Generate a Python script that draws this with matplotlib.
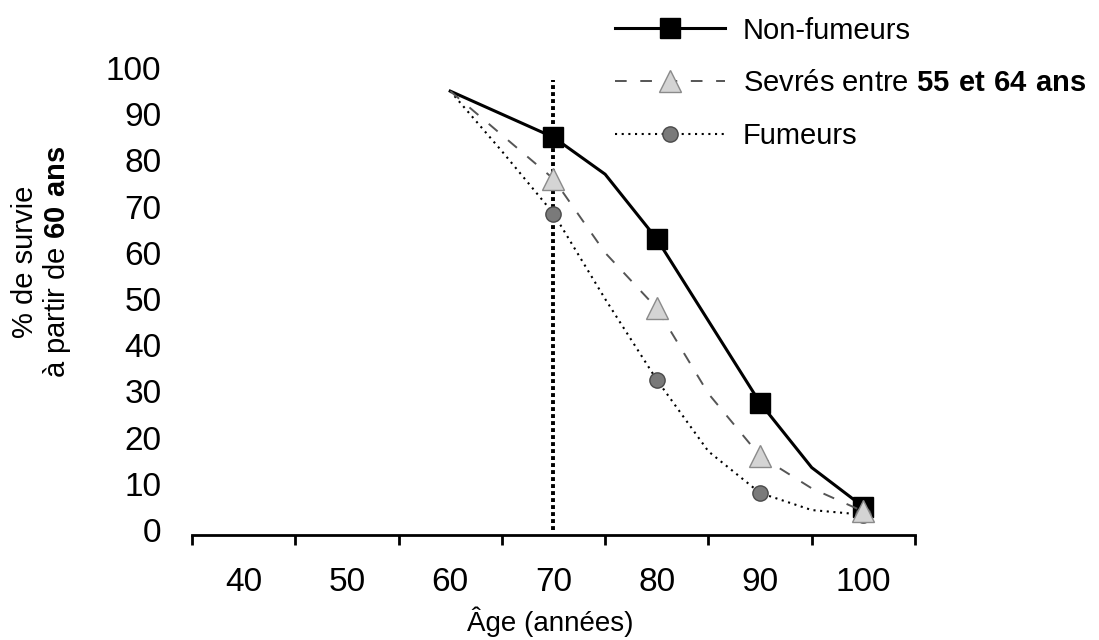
import matplotlib
matplotlib.use("Agg")
import matplotlib.pyplot as plt
from matplotlib.ticker import FixedLocator, NullFormatter, FixedFormatter

plt.rcParams['font.family'] = ['Liberation Sans', 'DejaVu Sans']
plt.rcParams['mathtext.fontset'] = 'custom'
plt.rcParams['mathtext.rm'] = 'Liberation Sans'
plt.rcParams['mathtext.bf'] = 'Liberation Sans:bold'

# données
age_non = [60, 70, 75, 80, 90, 95, 100]
non_fumeurs = [95, 85, 77, 63, 27.5, 13.5, 5]
age = [60, 65, 70, 75, 80, 85, 90, 95, 100]
sevres = [95, 85.5, 76, 60, 48, 29.5, 16, 9, 4]
fumeurs = [95, 82, 68.5, 50, 32.5, 17, 8, 4.3, 3.3]
age_ticks = [40, 50, 60, 70, 80, 90, 100]
age_bords = [35, 45, 55, 65, 75, 85, 95, 105]
age_ref = 70

fig = plt.figure(figsize=(10.99, 6.40), dpi=100)
ax = fig.add_axes([192/1099, 105/640, 723/1099, 467/640])

l1, = ax.plot(age_non, non_fumeurs, color="black", lw=2.2, marker="s", ms=14,
              markevery=[1, 3, 4, 6], mfc="black", mec="black", zorder=3,
              label="Non-fumeurs")
l2, = ax.plot(age, sevres, color="#555555", lw=1.4, ls=(0, (6, 7)), marker="^", ms=16,
              markevery=[2, 4, 6, 8], mfc="#d4d4d4", mec="#8a8a8a", zorder=5,
              label="Sevrés entre $\\mathbf{55\\ et\\ 64\\ ans}$")
l3, = ax.plot(age, fumeurs, color="black", lw=1.5, ls=(0, (1, 2.2)), marker="o", ms=11,
              markevery=[2, 4, 6, 8], mfc="#7a7a7a", mec="#4a4a4a", zorder=4,
              label="Fumeurs")

ax.plot([age_ref, age_ref], [0, 97.5], color="black", lw=2.8, ls=(0, (1, 0.8)), zorder=2)

ax.set_xlim(35, 105)
ax.set_ylim(-1.1, 100)
for s in ["left", "right", "top"]:
    ax.spines[s].set_visible(False)
ax.spines["bottom"].set_linewidth(2)

ax.xaxis.set_major_locator(FixedLocator(age_bords))
ax.xaxis.set_major_formatter(NullFormatter())
ax.xaxis.set_minor_locator(FixedLocator(age_ticks))
ax.xaxis.set_minor_formatter(FixedFormatter([str(a) for a in age_ticks]))
ax.tick_params(axis="x", which="major", direction="out", length=7, width=2)
ax.tick_params(axis="x", which="minor", length=0, pad=23, labelsize=24)
ax.set_yticks(range(0, 101, 10))
ax.tick_params(axis="y", length=0, pad=22, labelsize=24)

fig.text(550/1099, 18/640, "Âge (années)", ha="center", va="center", fontsize=20)
fig.text(42/1099, 1 - 262/640, "% de survie\nà partir de $\\mathbf{60\\ ans}$",
         rotation=90, ha="center", va="center", fontsize=21, linespacing=1.05)

fig.legend(handles=[l1, l2, l3], loc="upper left", bbox_to_anchor=(600/1099, 1 - 2/640),
           frameon=False, fontsize=21, handlelength=3.8, handletextpad=0.6,
           labelspacing=0.85, borderpad=0, markerscale=1.0)

plt.savefig("out.png", dpi=100)
